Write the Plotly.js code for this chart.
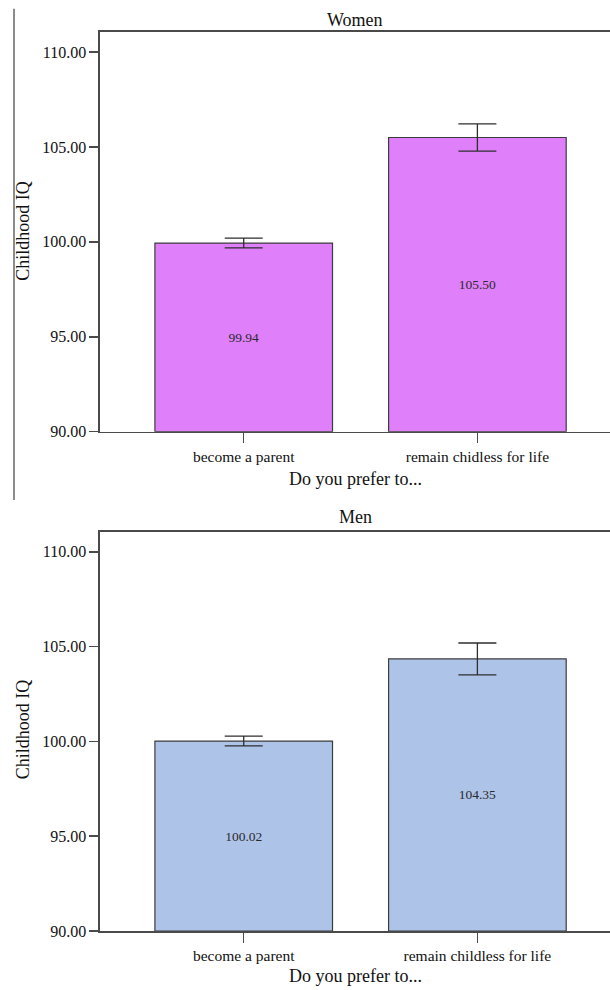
<!DOCTYPE html>
<html>
<head>
<meta charset="utf-8">
<script src="https://cdn.plot.ly/plotly-3.0.1.min.js"></script>
<style>html,body{margin:0;padding:0;background:#fff;}#chart{width:610px;height:990px;}</style>
</head>
<body>
<div id="chart"></div>
<script>
// ---- data ----
var categories = ["become a parent", "remain childless for life"];
var womenTickLabels = ["become a parent", "remain chidless for life"];
var menTickLabels = ["become a parent", "remain childless for life"];
var womenMeans = [99.94, 105.50];
var womenErrors = [0.26, 0.72];
var menMeans = [100.02, 104.35];
var menErrors = [0.26, 0.84];
var yTickVals = [90, 95, 100, 105, 110];
var panelTitles = ["Women", "Men"];
var xTitle = "Do you prefer to...";
var yTitle = "Childhood IQ";

// ---- layout geometry (pixels) ----
var W = 610, H = 990;
var mL = 100, mR = 0, mT = 32.3, mB = 59.3;
var plotH = H - mT - mB, plotW = W - mL - mR;
function py(p) { return (H - mB - p) / plotH; }
function px(p) { return (p - mL) / plotW; }
var topBottomPx = 431.7, botTopPx = 531.7;

var serif = "Liberation Serif";
var lineCol = "#4a4a4a";
var axisFloor = 90;

function barTrace(vals, errs, color, xa, ya) {
  return {
    type: "bar", x: categories, y: vals.map(function (v) { return v - axisFloor; }),
    base: axisFloor, xaxis: xa, yaxis: ya,
    width: 0.76,
    marker: { color: color, line: { color: "#3c3c3c", width: 1.2 } },
    error_y: { type: "data", array: errs, visible: true, color: "#2e2e2e", thickness: 1.3, width: 19 },
    text: vals.map(function (v) { return v.toFixed(2); }),
    textposition: "inside", insidetextanchor: "middle",
    textfont: { family: serif, size: 13.5, color: "#2a2a2a" },
    hoverinfo: "none", showlegend: false
  };
}

var t1 = barTrace(womenMeans, womenErrors, "#df80fa", "x", "y");
var t2 = barTrace(menMeans, menErrors, "#aec3e8", "x2", "y2");

function xAxis(anchor, ticks) {
  return {
    anchor: anchor, domain: [0, 1], type: "category",
    range: [-0.615, 1.5675],
    tickmode: "array", tickvals: categories, ticktext: ticks,
    ticks: "outside", ticklen: 10, tickwidth: 1.2, tickcolor: lineCol,
    showline: true, linecolor: lineCol, linewidth: 1.6, mirror: true,
    showgrid: false, zeroline: false,
    tickfont: { family: serif, size: 15.5, color: "#111" }
  };
}
function yAxis(anchor, dom) {
  return {
    anchor: anchor, domain: dom, range: [90, 111.06],
    tickmode: "array", tickvals: yTickVals, tickformat: ".2f",
    ticks: "outside", ticklen: 9, tickwidth: 1.6, tickcolor: lineCol,
    showline: true, linecolor: lineCol, linewidth: 1.6,
    showgrid: false, zeroline: false,
    tickfont: { family: serif, size: 16, color: "#111" }
  };
}

var layout = {
  width: W, height: H,
  font: { family: serif, size: 16, color: "#111" },
  margin: { l: mL, r: mR, t: mT, b: mB, pad: 0 },
  paper_bgcolor: "#fff", plot_bgcolor: "#fff",
  xaxis: xAxis("y", womenTickLabels),
  yaxis: yAxis("x", [py(topBottomPx), 1]),
  xaxis2: xAxis("y2", menTickLabels),
  yaxis2: yAxis("x2", [0, py(botTopPx)]),
  annotations: [
    { text: panelTitles[0], xref: "paper", yref: "paper", x: 0.5, y: py(20), xanchor: "center", yanchor: "middle", showarrow: false, font: { family: serif, size: 18, color: "#111" } },
    { text: panelTitles[1], xref: "paper", yref: "paper", x: 0.5, y: py(517), xanchor: "center", yanchor: "middle", showarrow: false, font: { family: serif, size: 18, color: "#111" } },
    { text: xTitle, xref: "paper", yref: "paper", x: 0.5, y: py(479), xanchor: "center", yanchor: "middle", showarrow: false, font: { family: serif, size: 18, color: "#111" } },
    { text: xTitle, xref: "paper", yref: "paper", x: 0.5, y: py(976), xanchor: "center", yanchor: "middle", showarrow: false, font: { family: serif, size: 18, color: "#111" } },
    { text: yTitle, textangle: -90, xref: "paper", yref: "paper", x: px(23), y: py(231), xanchor: "center", yanchor: "middle", showarrow: false, font: { family: serif, size: 18, color: "#111" } },
    { text: yTitle, textangle: -90, xref: "paper", yref: "paper", x: px(23), y: py(729), xanchor: "center", yanchor: "middle", showarrow: false, font: { family: serif, size: 18, color: "#111" } }
  ],
  shapes: [
    { type: "line", xref: "paper", yref: "paper", x0: px(14), x1: px(14), y0: py(9), y1: py(500), line: { color: "#666", width: 1.5 } }
  ]
};

Plotly.newPlot("chart", [t1, t2], layout, { displayModeBar: false, staticPlot: true });
</script>
</body>
</html>
